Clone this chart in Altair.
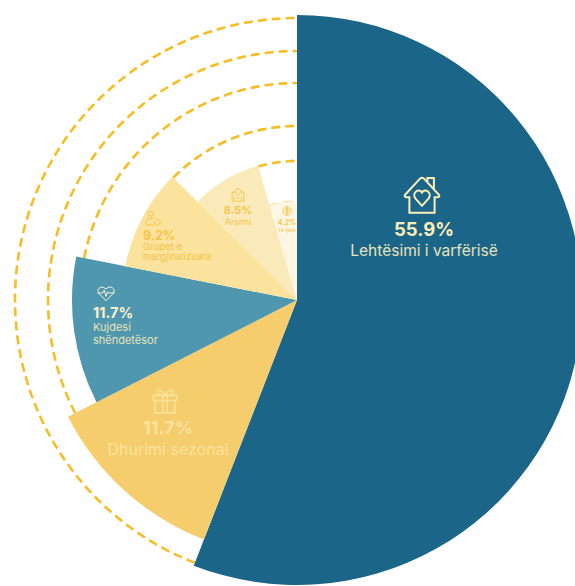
import math
import altair as alt
import pandas as pd

# ---- data ----
categories = ["Lehtësimi i varfërisë", "Dhurimi sezonal", "Kujdesi shëndetësor",
              "Grupet e margjinalizuara", "Arsimi", "Të tjera"]
shares = [55.9, 11.6, 10.6, 9.3, 8.1, 4.5]
reach = [285, 257, 225, 175, 140, 99]
colors = ["#1b6589", "#f5cd6c", "#4f97ae", "#fbe29d", "#fbeab9", "#fdf6e3"]
guide_radius = [282, 249, 217, 174, 139, 98]
guide_from = [55.9, 67.5, 78.1, 87.4, 95.5, 95.5]   # guide arcs begin at the slice ends

W, H = 567, 578
CX, CY = 289, 292
INK = "#fdeeb8"
FONT = "Inter"

cum = [0.0]
for s in shares:
    cum.append(cum[-1] + s)
slices = pd.DataFrame({"cat": categories, "start": cum[:-1], "end": cum[1:], "r": reach})

theta_scale = alt.Scale(domain=[0, 100], range=[0, 2 * math.pi])
radius_scale = alt.Scale(type="linear", domain=[0, 285], range=[0, 285])
x_scale = alt.Scale(domain=[-CX, W - CX], range=[0, W])
y_scale = alt.Scale(domain=[CY - H, CY], range=[H, 0])

pie = alt.Chart(slices).mark_arc(stroke=None).encode(
    x=alt.value(CX), y=alt.value(CY),
    theta=alt.Theta("start:Q", scale=theta_scale),
    theta2=alt.Theta2("end:Q"),
    radius=alt.Radius("r:Q", scale=radius_scale),
    color=alt.Color("cat:N", scale=alt.Scale(domain=categories, range=colors), legend=None),
    order=alt.Order("start:Q"),
)

rows = []
for i, (r, a0) in enumerate(zip(guide_radius, guide_from)):
    n = 120
    for k in range(n + 1):
        t = (a0 + (100 - a0) * k / n) / 100 * 2 * math.pi
        rows.append({"g": i, "k": k, "x": r * math.sin(t), "y": r * math.cos(t)})
guides = alt.Chart(pd.DataFrame(rows)).mark_line(
    color="#f6bd27", strokeWidth=2.6, strokeDash=[9, 5]
).encode(
    x=alt.X("x:Q", scale=x_scale, axis=None),
    y=alt.Y("y:Q", scale=y_scale, axis=None),
    detail="g:N", order="k:Q",
)


def label(s, x, y, size, color, weight=400, align="center", opacity=1):
    return alt.Chart(pd.DataFrame({"t": [s]})).mark_text(
        font=FONT, fontSize=size, fontWeight=weight, color=color, align=align,
        baseline="middle", opacity=opacity,
    ).encode(x=alt.value(x - 8), y=alt.value(y - 6.5), text="t:N")


def icon(path, x, y, w, color, sw=1.5):
    return alt.Chart(pd.DataFrame({"t": [0]})).mark_point(
        shape=path, size=w * w, filled=False, stroke=color, strokeWidth=sw, opacity=1,
    ).encode(x=alt.value(x - 8), y=alt.value(y - 8))


HEART = "M0,0.6 L-0.36,0.2 C-0.6,-0.12 -0.16,-0.42 0,-0.14 C0.16,-0.42 0.6,-0.12 0.36,0.2 Z"
HOUSE = ("M-0.95,0 L-0.1,-0.92 Q0,-1 0.1,-0.92 L0.95,0 Q1,0.12 0.85,0.12 L0.7,0.12 L0.7,0.98 "
         "L-0.7,0.98 L-0.7,0.12 L-0.85,0.12 Q-1,0.12 -0.95,0 Z "
         "M0.3,-0.7 L0.3,-0.95 L0.66,-0.95 L0.66,-0.3 " + HEART)
GIFT = ("M-0.95,-0.45 L0.95,-0.45 L0.95,-0.05 L-0.95,-0.05 Z M-0.8,-0.05 L-0.8,0.95 L0.8,0.95 L0.8,-0.05 "
        "M-0.18,-0.45 L-0.18,0.95 M0.18,-0.45 L0.18,0.95 "
        "M0,-0.45 C-0.3,-0.95 -0.75,-1 -0.62,-0.65 Q-0.5,-0.45 0,-0.45 "
        "M0,-0.45 C0.3,-0.95 0.75,-1 0.62,-0.65 Q0.5,-0.45 0,-0.45")
PULSE = ("M0,0.9 L-0.8,0.1 C-1.25,-0.45 -0.55,-1.05 0,-0.45 C0.55,-1.05 1.25,-0.45 0.8,0.1 Z "
         "M-1,0 L-0.4,0 L-0.2,-0.35 L0,0.4 L0.2,-0.15 L0.3,0 L1,0")
PEOPLE = ("M-0.25,-0.95 A0.3,0.3 0 1 1 -0.25,-0.35 A0.3,0.3 0 1 1 -0.25,-0.95 Z "
          "M-0.85,0.75 L-0.85,0.35 Q-0.85,-0.1 -0.25,-0.1 L0.2,-0.1 "
          "M-0.85,0.75 L0.2,0.75 M0.55,0.05 A0.35,0.35 0 1 1 0.55,0.75 A0.35,0.35 0 1 1 0.55,0.05 Z")
SCHOOL = ("M-0.9,-0.45 L-0.4,-0.45 M0.4,-0.45 L0.9,-0.45 L0.9,0.95 L-0.9,0.95 L-0.9,-0.45 "
          "M0,-0.95 C-0.55,-0.95 -0.5,-0.35 0,0.1 C0.5,-0.35 0.55,-0.95 0,-0.95 Z "
          "M-0.55,0.35 L-0.55,0.7 M0.55,0.35 L0.55,0.7 M-0.2,0.45 L0.2,0.45")
GLOBE = ("M-1,0 A1,1 0 1 1 1,0 A1,1 0 1 1 -1,0 Z M-1,0 L1,0 M0,-1 L0,1 "
         "M-0.85,-0.5 L0.85,-0.5 M-0.85,0.5 L0.85,0.5 "
         "M0,-1 Q-0.5,0 0,1 M0,-1 Q0.5,0 0,1")

DARK_GOLD = "#f4c548"
SOFT = "#e6e2b8"
parts = [
    icon(HOUSE, 422, 195, 36, INK, 2),
    label("55.9%", 424, 228, 18.5, INK, 700),
    label("Lehtësimi i varfërisë", 424, 249, 15.5, SOFT),
    icon(GIFT, 165, 401, 25, "#fbe29d", 1.5),
    label("11.7%", 168, 427, 18, "#fbe29d", 700),
    label("Dhurimi sezonal", 168, 448, 16, "#fbe29d"),
    icon(PULSE, 106, 293, 17, "#fdf3d0", 1),
    label("11.7%", 93, 312, 14.5, "#fdf3d0", 700, "left"),
    label("Kujdesi", 93, 326.5, 11, SOFT, 400, "left"),
    label("shëndetësor", 93, 339, 11, SOFT, 400, "left"),
    icon(PEOPLE, 153, 219, 16, DARK_GOLD, 1),
    label("9.2%", 143, 234, 12.5, DARK_GOLD, 700, "left"),
    label("Grupet e", 143, 245.7, 9.5, DARK_GOLD, 400, "left"),
    label("margjinalizuara", 143, 255.3, 9.5, DARK_GOLD, 400, "left"),
    icon(SCHOOL, 238, 195, 13, DARK_GOLD, 1),
    label("8.5%", 238, 209.5, 11, DARK_GOLD, 700),
    label("Arsimi", 238, 220, 9, DARK_GOLD),
    icon(GLOBE, 287, 211, 9, DARK_GOLD, 0.6),
    label("4.2%", 287, 221, 7, DARK_GOLD, 700),
    label("Të tjera", 287, 228, 5, DARK_GOLD),
]

chart = alt.layer(guides, pie, *parts).resolve_scale(
    theta="independent", radius="independent"
).properties(
    width=W, height=H, padding=0, autosize=alt.AutoSizeParams(type="none"),
    background="white",
).configure_view(stroke=None)

chart.save("out.html", embed_options={
    "renderer": "svg", "actions": False,
    "defaultStyle": "body{margin:8px 0 0 8px;overflow:hidden}",
})
